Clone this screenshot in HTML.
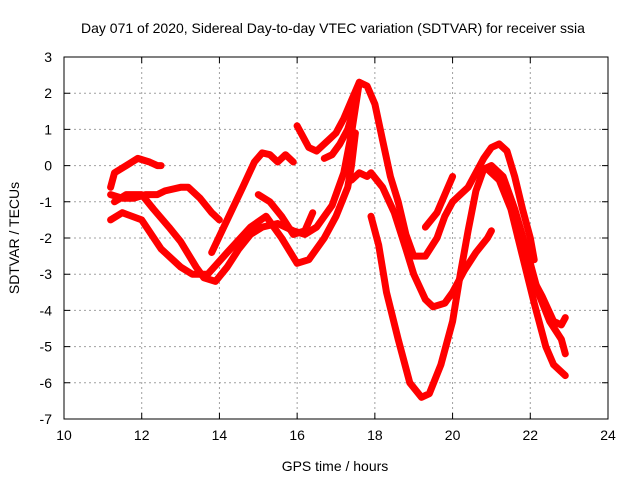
<!DOCTYPE html>
<html><head><meta charset="utf-8"><style>
body{margin:0;background:#fff;}
svg text{font-family:"Liberation Sans",sans-serif;font-size:14px;fill:#000;}
</style></head><body>
<svg id="chart" width="640" height="480" xmlns="http://www.w3.org/2000/svg">
<text x="333" y="33" text-anchor="middle">Day 071 of 2020, Sidereal Day-to-day VTEC variation (SDTVAR) for receiver ssia</text>
<text x="335" y="471" text-anchor="middle">GPS time / hours</text>
<text transform="translate(19,238) rotate(-90)" text-anchor="middle">SDTVAR / TECUs</text>
<g id="grid"></g>
<g id="ticks"></g>
<g id="series"></g>
<rect x="64" y="57" width="544" height="362" fill="none" stroke="#000" stroke-width="1"/>
</svg>
<script>
const xTicks=[10,12,14,16,18,20,22,24];
const yTicks=[3,2,1,0,-1,-2,-3,-4,-5,-6,-7];
const track1=[[11.2,-0.6],[11.3,-0.2],[11.6,0],[11.9,0.2],[12.2,0.1],[12.4,0],[12.5,0]];
const track2=[[11.2,-0.8],[11.5,-0.9],[11.8,-0.9],[12.1,-0.8],[12.4,-0.8],[12.6,-0.7],[13.0,-0.6],[13.2,-0.6],[13.5,-0.9],[13.8,-1.3],[14.0,-1.5]];
const track3=[[11.3,-1.0],[11.6,-0.8],[12.0,-0.8],[12.3,-1.2],[12.7,-1.7],[13.0,-2.1],[13.4,-2.8],[13.6,-3.1],[13.9,-3.2],[14.2,-2.8],[14.5,-2.3],[14.8,-1.9],[15.1,-1.7],[15.5,-1.6],[15.9,-1.8],[16.2,-1.9],[16.5,-1.7],[16.9,-1.1],[17.2,-0.2],[17.4,0.9],[17.5,1.6],[17.6,2.3],[17.8,2.2],[18.0,1.7],[18.2,0.7],[18.4,-0.3],[18.6,-1.0],[18.8,-1.9],[19.0,-2.5],[19.3,-2.5],[19.6,-2.0],[19.8,-1.4],[20.0,-1.0],[20.2,-0.8],[20.4,-0.6],[20.6,-0.2],[20.8,0.2],[21.0,0.5],[21.2,0.6],[21.4,0.4],[21.6,-0.3],[21.8,-1.2],[22.0,-2.0],[22.1,-2.6]];
const track4=[[11.2,-1.5],[11.5,-1.3],[12.0,-1.5],[12.5,-2.3],[13.0,-2.8],[13.3,-3.0],[13.7,-3.0],[14.2,-2.4],[14.8,-1.7],[15.2,-1.4],[15.6,-2.0],[16.0,-2.7],[16.3,-2.6],[16.7,-2.0],[17.0,-1.4],[17.3,-0.6],[17.4,0.0],[17.5,0.9]];
const track5=[[16.0,1.1],[16.3,0.5],[16.5,0.4],[16.8,0.7],[17.0,0.9],[17.2,1.3],[17.4,1.8],[17.6,2.3]];
const track6=[[16.7,0.2],[16.9,0.3],[17.1,0.6],[17.3,1.0],[17.5,1.7]];
const track7=[[13.8,-2.4],[14.2,-1.5],[14.6,-0.6],[14.9,0.1],[15.1,0.35],[15.3,0.3],[15.5,0.1],[15.7,0.3],[15.9,0.1]];
const track8=[[15.0,-0.8],[15.3,-1.0],[15.6,-1.4],[15.9,-1.9],[16.2,-1.8],[16.4,-1.3]];
const track9=[[17.4,-0.4],[17.6,-0.2],[17.8,-0.3],[17.9,-0.2],[18.2,-0.6],[18.5,-1.3],[18.8,-2.3],[19.0,-3.0],[19.3,-3.7],[19.5,-3.9],[19.8,-3.8],[20.0,-3.5],[20.3,-2.9],[20.6,-2.4],[20.9,-2.0],[21.0,-1.8]];
const track10=[[17.9,-1.4],[18.1,-2.2],[18.3,-3.5],[18.6,-4.8],[18.9,-6.0],[19.2,-6.4],[19.4,-6.3],[19.7,-5.5],[20.0,-4.3],[20.2,-3.0],[20.4,-1.8],[20.6,-0.7],[20.8,-0.1],[21.0,0.0],[21.3,-0.3],[21.6,-1.2],[21.9,-2.3],[22.2,-3.5],[22.5,-4.3],[22.8,-4.8],[22.9,-5.2]];
const track11=[[20.9,-0.1],[21.2,-0.4],[21.5,-1.2],[21.8,-2.5],[22.1,-3.8],[22.4,-5.0],[22.6,-5.5],[22.8,-5.7],[22.9,-5.8]];
const track12=[[22.0,-3.0],[22.3,-3.6],[22.6,-4.3],[22.8,-4.4],[22.9,-4.2]];
const track13=[[19.3,-1.7],[19.6,-1.3],[19.8,-0.8],[20.0,-0.3]];
const tracks=[track1,track2,track3,track4,track5,track6,track7,track8,track9,track10,track11,track12,track13];
const X0=64,X1=608,Y0=57,Y1=419;
const xs=v=>X0+(v-10)/(24-10)*(X1-X0);
const ys=v=>Y0+(3-v)/(3-(-7))*(Y1-Y0);
const NS='http://www.w3.org/2000/svg';
const grid=document.getElementById('grid'),ticks=document.getElementById('ticks'),ser=document.getElementById('series');
function mk(tag,attrs,parent){const e=document.createElementNS(NS,tag);for(const k in attrs)e.setAttribute(k,attrs[k]);parent.appendChild(e);return e;}
xTicks.forEach(t=>{const x=xs(t);
 if(t>10&&t<24){const g=mk('line',{x1:x,x2:x,y1:Y0,y2:Y1,stroke:'#a0a0a0','stroke-dasharray':'2,3'},grid);
 
 }
 const tk=mk('path',{d:`M${x},${Y1}v-6M${x},${Y0}v6`,stroke:'#000'},ticks);
 
 
 const tx=mk('text',{x:x,y:Y1+21,'text-anchor':'middle'},ticks);tx.textContent=t;
 
 
});
yTicks.forEach(t=>{const y=ys(t);
 if(t<3&&t>-7){const g=mk('line',{x1:X0,x2:X1,y1:y,y2:y,stroke:'#a0a0a0','stroke-dasharray':'2,3'},grid);
 
 }
 const tk=mk('path',{d:`M${X0},${y}h6M${X1},${y}h-6`,stroke:'#000'},ticks);
 
 
 const tx=mk('text',{x:X0-12,y:y+5,'text-anchor':'end'},ticks);tx.textContent=t;
 
 
});
tracks.forEach((tr,i)=>{
 const d=tr.map((p,j)=>(j?'L':'M')+xs(p[0]).toFixed(1)+','+ys(p[1]).toFixed(1)).join('');
 const p=mk('path',{d:d,fill:'none',stroke:'#ff0000','stroke-width':7,'stroke-linejoin':'round','stroke-linecap':'round'},ser);
 
 
});
</script>
</body></html>
